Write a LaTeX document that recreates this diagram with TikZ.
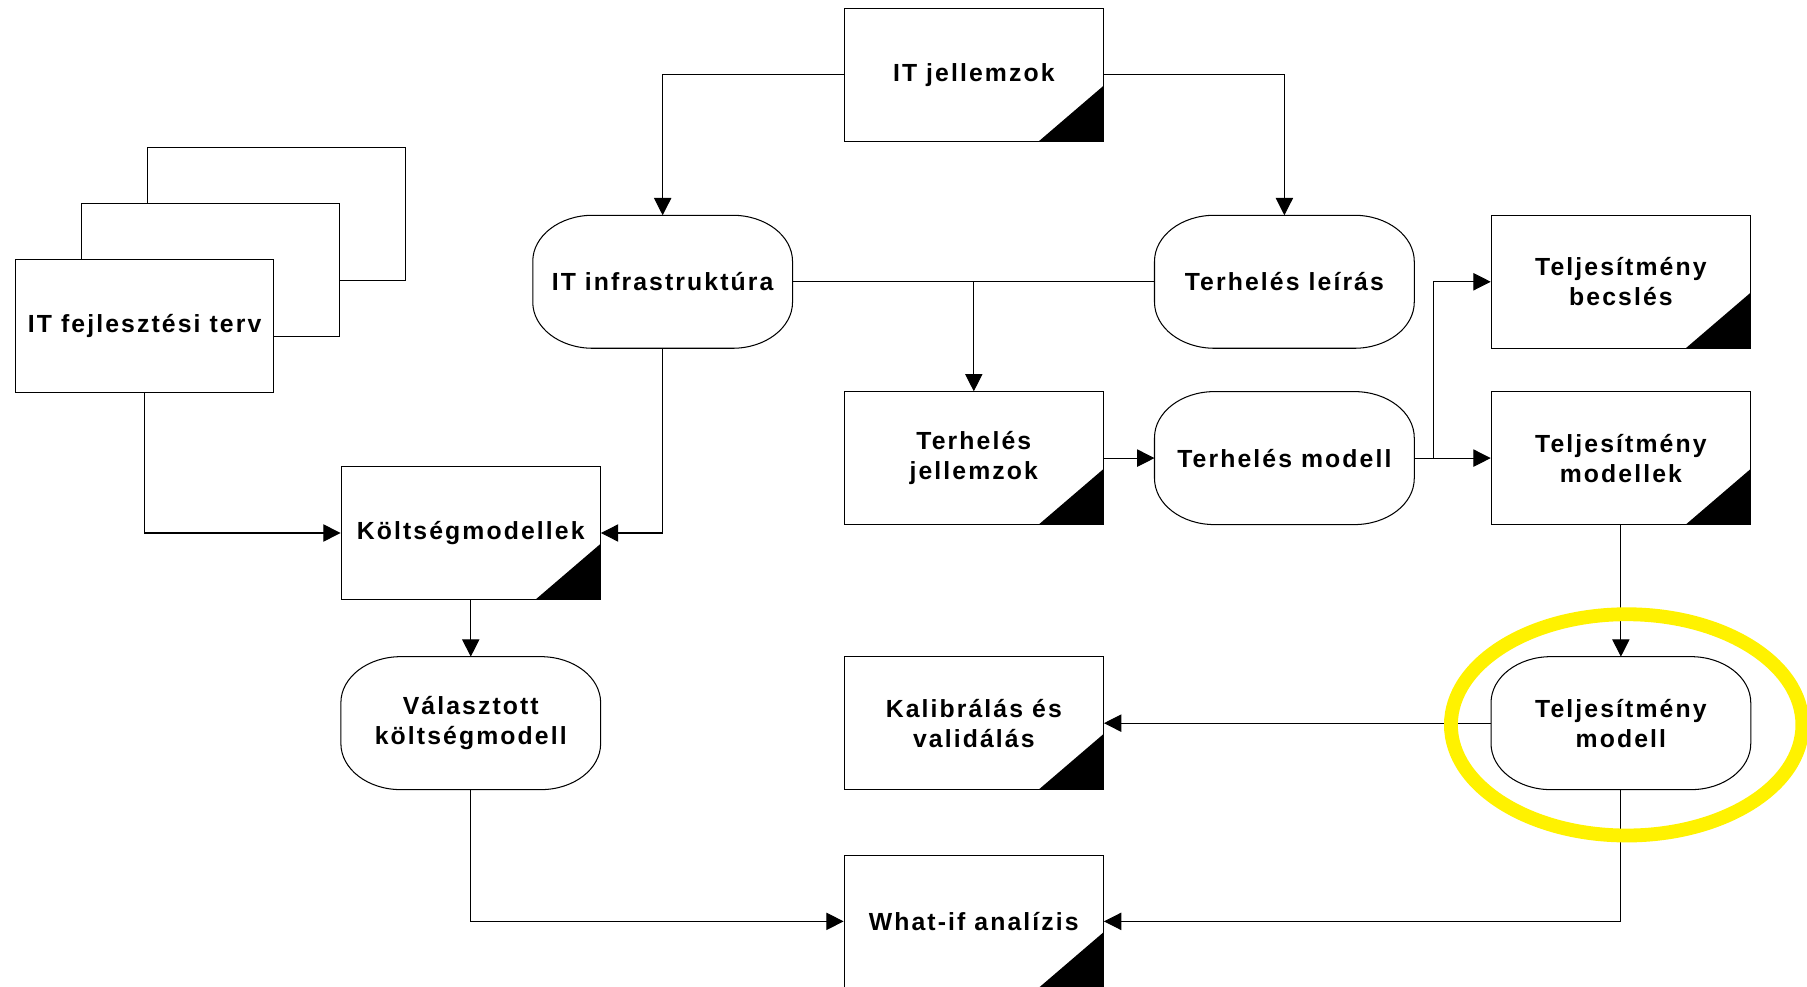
\documentclass[tikz,border=0pt]{standalone}
\usepackage{fontspec}
\setmainfont{Liberation Sans}[LetterSpace=8.5]
\usetikzlibrary{arrows.meta}
% outline of a terminal node: straight edges with elliptical corners
\newcommand\termoutline[1]{%
  \draw[conn]
    ([xshift=-52pt]#1.north east)
      arc[start angle=90, end angle=0, x radius=52pt, y radius=40pt]
    -- ([yshift=40pt]#1.south east)
      arc[start angle=0, end angle=-90, x radius=52pt, y radius=40pt]
    -- ([xshift=52pt]#1.south west)
      arc[start angle=270, end angle=180, x radius=52pt, y radius=40pt]
    -- ([yshift=-40pt]#1.north west)
      arc[start angle=180, end angle=90, x radius=52pt, y radius=40pt]
    -- cycle;}
\begin{document}
\begin{tikzpicture}[x=1pt,y=-1pt,
  conn/.style={draw=black, line width=0.9pt},
  arr/.style={conn, -{Triangle[length=15pt,width=15pt]}},
  base/.style={minimum width=225pt, minimum height=115pt, inner sep=2pt,
    align=center, font=\fontsize{21.5}{26}\selectfont\bfseries},
  plainbox/.style={base, conn, fill=white},
  docbox/.style={base, conn, fill=white, path picture={
      \fill[black] (path picture bounding box.south east) -- ++(-56pt,0pt)
        -- ++(56pt,48pt) -- cycle;}},
  termbox/.style={base}
]
\useasboundingbox (0,0) rectangle (1568,856);

% stacked plan sheets
\node[plainbox, minimum width=224pt] (sheetc) at (240,185.5) {};
\node[plainbox, minimum width=224pt] (sheetb) at (182.5,234.5) {};
\node[plainbox, minimum width=224pt] (terv) at (125.5,283) {IT fejlesztési terv};

% documents and terminals
\node[docbox]  (itj)       at (845,65)    {IT jellemzok};
\node[termbox] (infra)     at (575,244.5) {IT infrastruktúra};
\node[termbox] (leiras)    at (1114.5,244.5) {Terhelés leírás};
\node[docbox]  (becsles)   at (1406.5,244.5) {Teljesítmény\\becslés};
\node[docbox]  (tjell)     at (845,397.5) {Terhelés\\jellemzok};
\node[termbox] (tmodell)   at (1114.5,397.5) {Terhelés modell};
\node[docbox]  (tmodellek) at (1406.5,397.5) {Teljesítmény\\modellek};
\node[docbox]  (koltseg)   at (408.5,462.5) {Költségmodellek};
\node[termbox] (valasz)    at (408.5,627.5) {Választott\\költségmodell};
\node[docbox]  (kalib)     at (845,627.5) {Kalibrálás és\\validálás};
\node[termbox] (telj)      at (1406.5,627.5) {Teljesítmény\\modell};
\node[docbox]  (whatif)    at (845,799.5) {What-if analízis};

\termoutline{infra}
\termoutline{leiras}
\termoutline{tmodell}
\termoutline{valasz}
\termoutline{telj}

% connectors
\draw[arr] (itj.west) -| (infra.north);
\draw[arr] (itj.east) -| (leiras.north);
\draw[conn] (infra.east) -- (leiras.west);
\coordinate (split1) at (infra.east -| tjell.north);
\draw[arr] (split1) -- (tjell.north);
\draw[arr] (infra.south) |- (koltseg.east);
\draw[arr] (terv.south) |- (koltseg.west);
\draw[arr] (koltseg.south) -- (valasz.north);
\draw[arr] (tjell.east) -- (tmodell.west);
\draw[arr] (tmodell.east) -- (tmodellek.west);
\coordinate (split2) at (1244,397.5);
\draw[arr] (split2) |- (becsles.west);
\draw[arr] (tmodellek.south) -- (telj.north);
\draw[arr] (telj.west) -- (kalib.east);
\draw[arr] (telj.south) |- (whatif.east);
\draw[arr] (valasz.south) |- (whatif.west);

% highlight ring
\draw[yellow, line width=12pt] (1411.5,629) ellipse [x radius=152.5pt, y radius=96pt];
\end{tikzpicture}
\end{document}
